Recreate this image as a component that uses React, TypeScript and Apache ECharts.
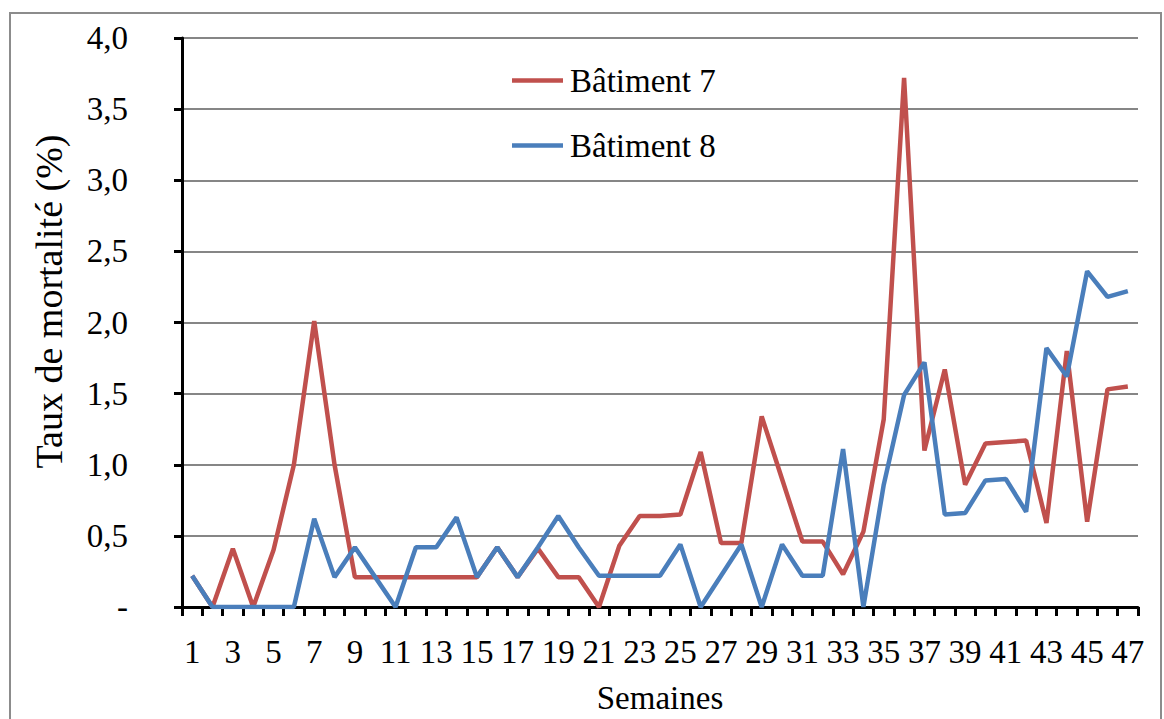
import React, { useEffect, useRef } from "react";
import * as echarts from "echarts";

const weeks: string[] = Array.from({ length: 47 }, (_, i) => String(i + 1));

const batiment7: number[] = [
  0.22, 0, 0.41, 0, 0.4, 1.0, 2.01, 1.0, 0.21, 0.21,
  0.21, 0.21, 0.21, 0.21, 0.21, 0.42, 0.21, 0.41, 0.21, 0.21,
  0, 0.43, 0.64, 0.64, 0.65, 1.09, 0.45, 0.45, 1.34, 0.9,
  0.46, 0.46, 0.23, 0.53, 1.32, 3.72, 1.1, 1.67, 0.86, 1.15,
  1.16, 1.17, 0.59, 1.8, 0.6, 1.53, 1.55,
];

const batiment8: number[] = [
  0.22, 0, 0, 0, 0, 0, 0.62, 0.21, 0.42, 0.21,
  0, 0.42, 0.42, 0.63, 0.21, 0.42, 0.21, 0.42, 0.64, 0.42,
  0.22, 0.22, 0.22, 0.22, 0.44, 0, 0.22, 0.44, 0, 0.44,
  0.22, 0.22, 1.11, 0, 0.86, 1.49, 1.72, 0.65, 0.66, 0.89,
  0.9, 0.67, 1.82, 1.62, 2.36, 2.18, 2.22,
];

const seriesNames = ["Bâtiment 7", "Bâtiment 8"];
const FONT = "Liberation Serif";
const FS = 33;

export default function App() {
  const ref = useRef<HTMLDivElement>(null);
  useEffect(() => {
    if (!ref.current) return;
    const chart = echarts.init(ref.current, undefined, { renderer: "svg" });
    const txt = { fontFamily: FONT, fontSize: FS, color: "#000", fontWeight: "normal" as const };
    chart.setOption({
      animation: false,
      backgroundColor: "#ffffff",
      textStyle: { fontFamily: FONT, color: "#000" },
      graphic: [
        {
          type: "rect",
          shape: { x: 10, y: 13, width: 1151, height: 720 },
          style: { fill: "none", stroke: "#8c8c8c", lineWidth: 2 },
          silent: true,
          z: -10,
        },
      ],
      grid: { left: 182, right: 26, top: 38, bottom: 111, containLabel: false },
      legend: {
        orient: "vertical",
        left: 512,
        top: 64,
        padding: 0,
        itemGap: 32,
        itemWidth: 51,
        itemHeight: 4.5,
        icon: "rect",
        textStyle: { ...txt, padding: [0, 0, 0, 2] },
        data: seriesNames,
      },
      xAxis: {
        type: "category",
        data: weeks,
        boundaryGap: true,
        name: "Semaines",
        nameLocation: "middle",
        nameGap: 74,
        nameTextStyle: txt,
        axisLine: { lineStyle: { color: "#000", width: 3 } },
        axisTick: { show: true, interval: 0, length: 9, lineStyle: { color: "#000", width: 3 } },
        axisLabel: {
          interval: 1,
          margin: 28,
          ...txt,
        },
        splitLine: { show: false },
      },
      yAxis: {
        type: "value",
        min: 0,
        max: 4,
        interval: 0.5,
        name: "Taux de mortalité (%)",
        nameLocation: "middle",
        nameGap: 114,
        nameTextStyle: { ...txt, fontSize: 38, padding: [0, 0, 0, 42] },
        axisLine: { show: true, lineStyle: { color: "#000", width: 3 } },
        axisTick: { show: true, length: 8, lineStyle: { color: "#000", width: 3 } },
        axisLabel: {
          margin: 54,
          ...txt,
          formatter: (v: number) => (v === 0 ? "-" : v.toFixed(1).replace(".", ",")),
        },
        splitLine: { show: true, lineStyle: { color: "#868686", width: 2 } },
      },
      series: [
        {
          name: seriesNames[0],
          type: "line",
          data: batiment7,
          symbol: "none",
          lineStyle: { color: "#C0504D", width: 4.5 },
          itemStyle: { color: "#C0504D" },
        },
        {
          name: seriesNames[1],
          type: "line",
          data: batiment8,
          symbol: "none",
          lineStyle: { color: "#4A7EBB", width: 4.5 },
          itemStyle: { color: "#4A7EBB" },
        },
      ],
    });
    return () => chart.dispose();
  }, []);
  return (
    <div
      ref={ref}
      style={{ position: "fixed", left: 0, top: 0, width: 1164, height: 719 }}
    />
  );
}
